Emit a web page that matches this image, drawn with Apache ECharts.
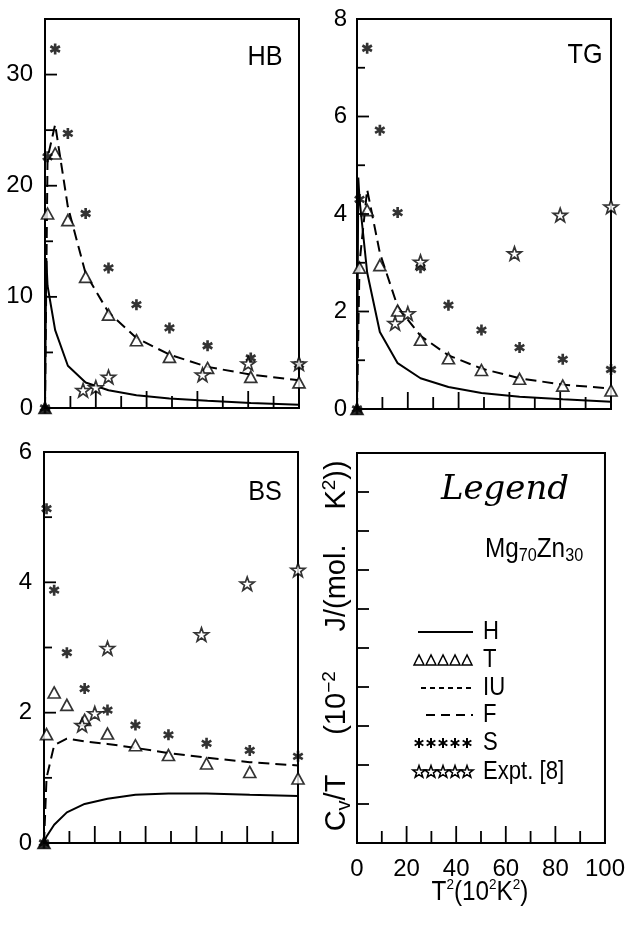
<!DOCTYPE html>
<html>
<head>
<meta charset="utf-8">
<script src="https://cdn.jsdelivr.net/npm/echarts@6/dist/echarts.min.js"></script>
<style>
html, body { margin: 0; background: #fff; }
#chart { width: 628px; height: 927px; }
</style>
</head>
<body>
<div id="chart"></div>
<script>
// x values are T^2 in units of 10^2 K^2
const tSq = [0, 1, 4, 9, 16, 25, 36, 49, 64, 81, 100];
const hX = [0, 0.5, 1, 4, 9, 16, 25, 36, 49, 64, 81, 100];
const exptX = [15, 20, 25, 62, 80, 100];

// HB panel
const hbH = [0, 13.5, 11, 7.0, 3.8, 2.3, 1.6, 1.15, 0.85, 0.65, 0.45, 0.3];
const hbF = [0, 22.5, 25.5, 18.1, 12.1, 8.6, 6.3, 4.8, 3.7, 3.0, 2.5];
const hbT = [0, 17.5, 22.9, 16.9, 11.8, 8.4, 6.1, 4.6, 3.6, 2.8, 2.3];
const hbS = [0, 22.6, 32.3, 24.7, 17.5, 12.6, 9.3, 7.2, 5.6, 4.5, 3.9];
const hbExpt = [1.6, 1.85, 2.8, 3.0, 4.0, 4.0];

// TG panel
const tgH = [0, 4.75, 4.3, 2.8, 1.58, 0.94, 0.63, 0.45, 0.33, 0.25, 0.2, 0.15];
const tgF = [0, 3.0, 4.5, 3.2, 2.1, 1.5, 1.1, 0.83, 0.63, 0.5, 0.42];
const tgT = [0, 2.9, 4.08, 2.95, 2.02, 1.42, 1.04, 0.8, 0.62, 0.48, 0.38];
const tgS = [0, 4.3, 7.4, 5.72, 4.03, 2.9, 2.13, 1.62, 1.26, 1.02, 0.81];
const tgExpt = [1.76, 1.96, 3.02, 3.19, 3.98, 4.15];

// BS panel
const bsH = [0, 0.05, 0.1, 0.28, 0.47, 0.6, 0.68, 0.74, 0.76, 0.76, 0.74, 0.72];
const bsF = [0, 1.0, 1.5, 1.6, 1.56, 1.52, 1.46, 1.38, 1.31, 1.24, 1.19];
const bsT = [0, 1.67, 2.31, 2.12, 1.89, 1.68, 1.5, 1.35, 1.22, 1.09, 0.99];
const bsS = [0, 5.13, 3.88, 2.92, 2.37, 2.04, 1.81, 1.66, 1.53, 1.42, 1.33];
const bsExpt = [1.81, 1.99, 2.99, 3.2, 3.98, 4.19];

// tick marks (inside the frame)
const xMajorTicks = [20, 40, 60, 80];
const xMinorTicks = [10, 30, 50, 70, 90];
const hbYTicks = [5, 10, 15, 20, 25, 30];
const tgYTicks = [1, 2, 3, 4, 5, 6, 7];
const bsYTicks = [1, 2, 3, 4, 5];
const legendYTicks = [1, 2, 3, 4, 5, 6, 7, 8, 9];
const xLabels = [0, 20, 40, 60, 80, 100];
const legendRows = ['H', 'T', 'IU', 'F', 'S', 'Expt. [8]'];

const FONT = '"Liberation Sans", Arial, sans-serif';

// marker shapes
function starPoints(cx, cy, R, r) {
    const pts = [];
    for (let k = 0; k < 10; k++) {
        const rad = k % 2 ? r : R;
        const a = -Math.PI / 2 + k * Math.PI / 5;
        pts.push([cx + rad * Math.cos(a), cy + rad * Math.sin(a)]);
    }
    return pts;
}
function starPath() {
    return starPoints(50, 50, 50, 20)
        .map((p, k) => (k ? 'L' : 'M') + p[0].toFixed(1) + ' ' + p[1].toFixed(1)).join(' ') + ' Z';
}
function asteriskPath() {
    let d = '';
    [90, 30, 150].forEach(deg => {
        const a = deg * Math.PI / 180;
        const ux = Math.cos(a), uy = Math.sin(a), px = -uy, py = ux;
        const L = 50, W = 12;
        const pts = [[L, W], [-L, W], [-L, -W], [L, -W]].map(([s, t]) =>
            [50 + s * ux + t * px, 50 + s * uy + t * py]);
        d += 'M' + pts.map(p => p[0].toFixed(1) + ' ' + p[1].toFixed(1)).join(' L') + ' Z ';
    });
    return d;
}
const STAR = starPath();
const ASTER = asteriskPath();

const pair = (xs, ys) => ys.map((y, i) => [xs[i], y]);

const panels = [
    {name: 'HB', max: 35, major: 10, yTicks: hbYTicks, h: hbH, f: hbF, t: hbT, s: hbS, e: hbExpt},
    {name: 'TG', max: 8, major: 2, yTicks: tgYTicks, h: tgH, f: tgF, t: tgT, s: tgS, e: tgExpt},
    {name: 'BS', max: 6, major: 2, yTicks: bsYTicks, h: bsH, f: bsF, t: bsT, s: bsS, e: bsExpt}
];

const grids = [
    {left: 45, top: 19, width: 254, height: 389},
    {left: 357, top: 19, width: 254, height: 390},
    {left: 44, top: 452, width: 254, height: 391},
    {left: 357, top: 453, width: 253, height: 390}
];

const xAxes = grids.map((g, i) => ({
    type: 'value', gridIndex: i, min: 0, max: 100, interval: 20,
    axisLine: {show: true, lineStyle: {color: '#000', width: 2}},
    axisTick: {show: false},
    splitLine: {show: false},
    axisLabel: {
        show: i === 3, margin: 14, color: '#000', fontSize: 24, fontFamily: FONT,
        formatter: v => xLabels.includes(v) ? String(v) : ''
    }
}));

const yAxes = grids.map((g, i) => {
    const p = panels[i];
    return {
        type: 'value', gridIndex: i, min: 0,
        max: p ? p.max : 10, interval: p ? p.major : 1,
        axisLine: {show: true, lineStyle: {color: '#000', width: 2}},
        axisTick: {show: false},
        splitLine: {show: false},
        axisLabel: {
            show: !!p, margin: i === 1 ? 10 : 12, color: '#000', fontSize: 24, fontFamily: FONT,
            formatter: v => (p && v % p.major === 0) ? String(v) : ''
        }
    };
});

const series = [];

// tick marks through each grid's own scales
grids.forEach((g, i) => {
    const p = panels[i];
    const ax = {xAxisIndex: i, yAxisIndex: i};
    series.push(Object.assign({
        type: 'custom', silent: true, z: 10, clip: false,
        data: xMajorTicks.concat(xMinorTicks).map(v => [v, 0]),
        renderItem: (params, api) => {
            const v = api.value(0);
            const pt = api.coord([v, 0]);
            const len = xMajorTicks.includes(v) ? 17 : 12;
            return {type: 'polyline', shape: {points: [[pt[0], pt[1]], [pt[0], pt[1] - len]]},
                style: {stroke: '#000', lineWidth: 1.8, fill: null}};
        }
    }, ax));
    series.push(Object.assign({
        type: 'custom', silent: true, z: 10, clip: false,
        data: (p ? p.yTicks : legendYTicks).map(v => [0, v]),
        renderItem: (params, api) => {
            const v = api.value(1);
            const pt = api.coord([0, v]);
            const len = (!p || v % p.major === 0) ? 12 : 8;
            return {type: 'polyline', shape: {points: [[pt[0], pt[1]], [pt[0] + len, pt[1]]]},
                style: {stroke: '#000', lineWidth: 1.8, fill: null}};
        }
    }, ax));
});

panels.forEach((p, i) => {
    const ax = {xAxisIndex: i, yAxisIndex: i};
    series.push(
        Object.assign({
            type: 'line', data: pair(hX, p.h),
            symbol: 'none', lineStyle: {color: '#000', width: 2}, silent: true, z: 2
        }, ax),
        Object.assign({
            type: 'line', data: pair(tSq, p.f),
            symbol: 'none', lineStyle: {color: '#000', width: 2, type: [11, 6]}, silent: true, z: 2
        }, ax),
        Object.assign({
            type: 'scatter', data: pair(tSq, p.t),
            symbol: 'triangle', symbolSize: [12, 11], clip: false, z: 3,
            itemStyle: {color: d => d.value[0] === 0 ? '#000' : '#fff', borderColor: '#000', borderWidth: 1.7}
        }, ax),
        Object.assign({
            type: 'scatter', data: pair(tSq, p.s),
            symbol: 'path://' + ASTER, symbolSize: 11, symbolKeepAspect: true, clip: false, z: 4,
            itemStyle: {color: '#000'}
        }, ax),
        Object.assign({
            type: 'scatter', data: pair(exptX, p.e),
            symbol: 'path://' + STAR, symbolSize: 14, symbolKeepAspect: true, clip: false, z: 5,
            itemStyle: {color: '#fff', borderColor: '#000', borderWidth: 1.7}
        }, ax)
    );
});

// legend box drawn as annotations inside the fourth panel
const graphic = [];
const titlePos = [[265, 57], [585, 55], [265, 492]];
panels.forEach((p, i) => {
    graphic.push({
        type: 'text', x: titlePos[i][0], y: titlePos[i][1], scaleX: 0.9,
        style: {text: p.name, font: '28px ' + FONT, fill: '#000', textAlign: 'center', textVerticalAlign: 'middle'}
    });
});
graphic.push({
    type: 'text', x: 505, y: 490,
    style: {text: 'Legend', font: 'italic 34px "DejaVu Serif"', fill: '#000', textAlign: 'center', textVerticalAlign: 'middle'}
});
graphic.push({
    type: 'text', x: 485, y: 550, scaleX: 0.9,
    style: {
        text: '{a|Mg}{b|70}{a|Zn}{b|30}', fill: '#000', textAlign: 'left', textVerticalAlign: 'middle',
        rich: {
            a: {fontSize: 27, fontFamily: FONT, lineHeight: 30},
            b: {fontSize: 18, fontFamily: FONT, lineHeight: 18, verticalAlign: 'bottom'}
        }
    }
});
const rowY = [632, 660, 688, 715, 743, 772];
legendRows.forEach((label, r) => {
    graphic.push({
        type: 'text', x: 483, y: rowY[r], scaleX: 0.85,
        style: {text: label, font: '26px ' + FONT, fill: '#000', textAlign: 'left', textVerticalAlign: 'middle'}
    });
});
graphic.push({type: 'line', shape: {x1: 418, y1: rowY[0], x2: 473, y2: rowY[0]}, style: {stroke: '#000', lineWidth: 2}});
graphic.push({type: 'line', shape: {x1: 421, y1: rowY[2], x2: 473, y2: rowY[2]}, style: {stroke: '#000', lineWidth: 1.8, lineDash: [5, 4]}});
graphic.push({type: 'line', shape: {x1: 426, y1: rowY[3], x2: 473, y2: rowY[3]}, style: {stroke: '#000', lineWidth: 1.8, lineDash: [9, 6]}});
for (let k = 0; k < 5; k++) {
    const cx = 419 + k * 12;
    graphic.push({
        type: 'polygon', shape: {points: [[cx, rowY[1] - 5], [cx - 5, rowY[1] + 5], [cx + 5, rowY[1] + 5]]},
        style: {fill: '#fff', stroke: '#000', lineWidth: 1.5}
    });
    [90, 30, 150].forEach(deg => {
        const a = deg * Math.PI / 180;
        graphic.push({
            type: 'line',
            shape: {x1: cx - 5 * Math.cos(a), y1: rowY[4] - 5 * Math.sin(a), x2: cx + 5 * Math.cos(a), y2: rowY[4] + 5 * Math.sin(a)},
            style: {stroke: '#000', lineWidth: 2}
        });
    });
    graphic.push({
        type: 'polygon', shape: {points: starPoints(cx, rowY[5], 6.5, 2.6)},
        style: {fill: '#fff', stroke: '#000', lineWidth: 1.5}
    });
}
// y title, spread out in word groups along the left edge of the legend panel
const yTitleParts = [
    {y: 803, text: '{a|C}{s|v}{a|/T}'},
    {y: 703, text: '{a|(10}{p|−2}'},
    {y: 588, text: '{a|J/(mol.}'},
    {y: 485, text: '{a|K}{p|2}{a|))}'}
];
yTitleParts.forEach(part => {
    graphic.push({
        type: 'text', x: 337, y: part.y, rotation: Math.PI / 2,
        style: {
            text: part.text, fill: '#000', textAlign: 'center', textVerticalAlign: 'middle',
            rich: {
                a: {fontSize: 29, fontFamily: FONT, lineHeight: 34},
                s: {fontSize: 20, fontFamily: FONT, lineHeight: 22, verticalAlign: 'bottom'},
                p: {fontSize: 19, fontFamily: FONT, lineHeight: 19, verticalAlign: 'top'}
            }
        }
    });
});
graphic.push({
    type: 'text', x: 480, y: 893, scaleX: 0.9,
    style: {
        text: '{a|T}{p|2}{a|(10}{p|2}{a|K}{p|2}{a|)}', fill: '#000',
        textAlign: 'center', textVerticalAlign: 'middle',
        rich: {
            a: {fontSize: 27, fontFamily: FONT, lineHeight: 32},
            p: {fontSize: 15, fontFamily: FONT, lineHeight: 18, verticalAlign: 'top'}
        }
    }
});

const chart = echarts.init(document.getElementById('chart'));
chart.setOption({
    animation: false,
    backgroundColor: '#fff',
    grid: grids.map(g => Object.assign({show: true, borderColor: '#000', borderWidth: 2, backgroundColor: 'transparent'}, g)),
    xAxis: xAxes,
    yAxis: yAxes,
    series: series,
    graphic: graphic
});
</script>
</body>
</html>
